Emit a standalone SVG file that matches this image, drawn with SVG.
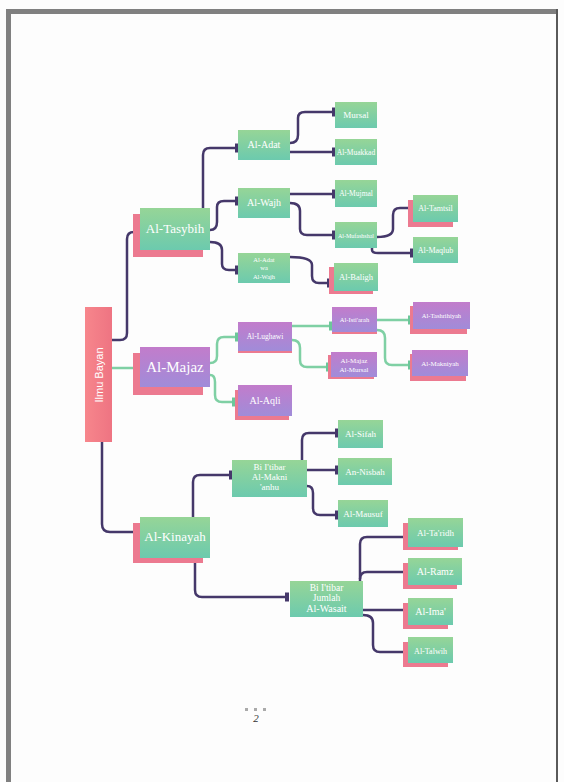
<svg xmlns="http://www.w3.org/2000/svg" width="564" height="782" viewBox="0 0 564 782">
<defs>
<linearGradient id="gG" x1="0" y1="0" x2="0" y2="1"><stop offset="0" stop-color="#96d597"/><stop offset="1" stop-color="#6ccaae"/></linearGradient>
<linearGradient id="gP" x1="0" y1="0" x2="0" y2="1"><stop offset="0" stop-color="#c27ccb"/><stop offset="1" stop-color="#a08cd9"/></linearGradient>
<linearGradient id="gR" x1="0" y1="0" x2="1" y2="0"><stop offset="0" stop-color="#f7868c"/><stop offset="1" stop-color="#ee7482"/></linearGradient>
<marker id="bd" markerWidth="6" markerHeight="10" refX="4" refY="5" orient="auto" markerUnits="userSpaceOnUse"><rect x="1" y="0.5" width="4" height="9" fill="#45386a"/></marker>
<marker id="bg" markerWidth="6" markerHeight="10" refX="4" refY="5" orient="auto" markerUnits="userSpaceOnUse"><rect x="1" y="0.5" width="4" height="9" fill="#6cc79a"/></marker>
</defs>
<style>
.g{fill:url(#gG)}
.p{fill:url(#gP)}
.s{fill:#ec7a90}
.t{fill:#ffffff;font-family:"Liberation Serif",serif;text-anchor:middle}
.cd{fill:none;stroke:#45386a;stroke-width:2.5;marker-end:url(#bd)}
.cg{fill:none;stroke:#7fd0a4;stroke-width:2.5;marker-end:url(#bg)}
</style>
<rect width="564" height="782" fill="#fdfdfd"/>
<rect x="6" y="9" width="552" height="5" fill="#808080"/>
<rect x="6" y="9" width="5" height="773" fill="#808080"/>
<rect x="556" y="9" width="2" height="773" fill="#5a5a5a"/>

<g id="connectors">
<path class="cd" d="M112,340 H120 Q127,340 127,333 V239 Q127,232 134,232 H140"/>
<path class="cg" d="M112,368 H140"/>
<path class="cd" d="M102,442 V524 Q102,532 110,532 H140"/>
<path class="cd" d="M203,208 V155 Q203,148 210,148 H238"/>
<path class="cd" d="M210,230 Q217,230 217,222 V207 Q217,201 224,201 H238"/>
<path class="cd" d="M210,242 Q222,242 222,250 V264 Q222,270 229,270 H238"/>
<path class="cd" d="M290,143 Q298,143 298,135 V118 Q298,112 305,112 H335"/>
<path class="cd" d="M290,152 H335"/>
<path class="cd" d="M290,194 H335"/>
<path class="cd" d="M290,203 Q300,203 300,211 V229 Q300,235 307,235 H335"/>
<path class="cd" d="M377,237 Q393,237 393,229 V215 Q393,208 400,208 H411"/>
<path class="cd" d="M372,248 V250 Q372,253 378,253 H413"/>
<path class="cd" d="M290,257 Q312,257 312,265 V276 Q312,283 319,283 H330"/>
<path class="cg" d="M210,363 Q217,363 217,356 V344 Q217,337 224,337 H238"/>
<path class="cg" d="M210,375 Q215,375 215,382 V395 Q215,402 222,402 H235"/>
<path class="cg" d="M292,326 H332"/>
<path class="cg" d="M292,340 Q300,340 300,348 V360 Q300,367 307,367 H329"/>
<path class="cg" d="M377,320 H411"/>
<path class="cg" d="M377,330 Q385,330 385,338 V358 Q385,365 392,365 H411"/>
<path class="cd" d="M193,517 V482 Q193,475 200,475 H232"/>
<path class="cd" d="M195,558 V590 Q195,597 202,597 H288"/>
<path class="cd" d="M302,460 V440 Q302,433 309,433 H338"/>
<path class="cd" d="M307,470 H338"/>
<path class="cd" d="M307,486 Q313,486 313,493 V508 Q313,515 320,515 H338"/>
<path class="cd" d="M360,582 V544 Q360,537 367,537 H408"/>
<path class="cd" d="M360,579 Q360,572 367,572 H408"/>
<path class="cd" d="M363,610 H408"/>
<path class="cd" d="M363,615 Q373,615 373,623 V645 Q373,652 380,652 H408"/>
</g>

<g id="root"><rect x="85" y="307" width="27" height="135" fill="url(#gR)"/><text transform="rotate(-90 98.5 375)" x="98.5" y="379" font-family="Liberation Sans,sans-serif" font-size="11" fill="#ffffff" text-anchor="middle">Ilmu Bayan</text></g>

<g id="tasybih"><rect class="s" x="133" y="214" width="70" height="43"/><rect class="g" x="140" y="208" width="70" height="42"/><text class="t" x="175" y="233" font-size="13">Al-Tasybih</text></g>
<g id="majaz"><rect class="s" x="133" y="353" width="70" height="42"/><rect class="p" x="140" y="347" width="70" height="40"/><text class="t" x="175" y="372" font-size="15">Al-Majaz</text></g>
<g id="kinayah"><rect class="s" x="133" y="523" width="70" height="40"/><rect class="g" x="140" y="517" width="70" height="41"/><text class="t" x="175" y="541" font-size="13">Al-Kinayah</text></g>

<g id="adat"><rect class="g" x="238" y="130" width="52" height="30"/><text class="t" x="264" y="148" font-size="10">Al-Adat</text></g>
<g id="mursal"><rect class="g" x="335" y="102" width="42" height="26"/><text class="t" x="356" y="118" font-size="9">Mursal</text></g>
<g id="muakkad"><rect class="g" x="335" y="139" width="42" height="26"/><text class="t" x="356" y="155" font-size="7.5">Al-Muakkad</text></g>
<g id="wajh"><rect class="g" x="238" y="188" width="52" height="30"/><text class="t" x="264" y="206" font-size="10">Al-Wajh</text></g>
<g id="mujmal"><rect class="g" x="335" y="180" width="42" height="27"/><text class="t" x="356" y="196" font-size="7.5">Al-Mujmal</text></g>
<g id="mufashshal"><rect class="g" x="335" y="222" width="42" height="26"/><text class="t" x="356" y="238" font-size="6">Al-Mufashshal</text></g>
<g id="tamtsil"><rect class="s" x="408" y="200" width="45" height="27"/><rect class="g" x="413" y="195" width="45" height="27"/><text class="t" x="435.5" y="211" font-size="8">Al-Tamtsil</text></g>
<g id="maqlub"><rect class="g" x="413" y="237" width="45" height="26"/><text class="t" x="435.5" y="253" font-size="8">Al-Maqlub</text></g>
<g id="adatwajh"><rect class="g" x="238" y="253" width="52" height="30"/><text class="t" x="264" y="262" font-size="6.5">Al-Adat</text><text class="t" x="264" y="270" font-size="6.5">wa</text><text class="t" x="264" y="279" font-size="6.5">Al-Wajh</text></g>
<g id="baligh"><rect class="s" x="329" y="267" width="44" height="27"/><rect class="g" x="334" y="263" width="44" height="28"/><text class="t" x="356" y="280" font-size="8.5">Al-Baligh</text></g>

<g id="lughawi"><rect class="s" x="238" y="348" width="54" height="5"/><rect class="p" x="238" y="322" width="54" height="29"/><text class="t" x="265" y="339" font-size="7.5">Al-Lughawi</text></g>
<g id="istiarah"><rect class="s" x="332" y="328" width="45" height="6"/><rect class="p" x="332" y="307" width="45" height="25"/><text class="t" x="354.5" y="322" font-size="6.5">Al-Isti'arah</text></g>
<g id="majazmursal"><rect class="s" x="328" y="355" width="46" height="24"/><rect class="p" x="331" y="352" width="46" height="25"/><text class="t" x="354" y="363" font-size="7">Al-Majaz</text><text class="t" x="354" y="372" font-size="7">Al-Mursal</text></g>
<g id="tashrihiyah"><rect class="s" x="410" y="306" width="57" height="28"/><rect class="p" x="413" y="302" width="57" height="27"/><text class="t" x="441.5" y="318" font-size="6.5">Al-Tashrihiyah</text></g>
<g id="makniyah"><rect class="s" x="410" y="354" width="56" height="27"/><rect class="p" x="412" y="350" width="56" height="26"/><text class="t" x="440" y="366" font-size="7">Al-Makniyah</text></g>
<g id="aqli"><rect class="s" x="235" y="390" width="54" height="30"/><rect class="p" x="238" y="385" width="54" height="31"/><text class="t" x="265" y="404" font-size="10">Al-Aqli</text></g>

<g id="makni"><rect class="g" x="232" y="460" width="75" height="37"/><text class="t" x="269.5" y="470" font-size="9">Bi I'tibar</text><text class="t" x="269.5" y="480" font-size="9">Al-Makni</text><text class="t" x="269.5" y="490" font-size="9">'anhu</text></g>
<g id="sifah"><rect class="g" x="338" y="420" width="45" height="28"/><text class="t" x="360.5" y="437" font-size="9">Al-Sifah</text></g>
<g id="nisbah"><rect class="g" x="338" y="458" width="54" height="27"/><text class="t" x="365" y="475" font-size="9">An-Nisbah</text></g>
<g id="mausuf"><rect class="g" x="338" y="500" width="50" height="27"/><text class="t" x="363" y="517" font-size="9">Al-Mausuf</text></g>
<g id="wasait"><rect class="g" x="290" y="581" width="73" height="36"/><text class="t" x="326.5" y="591" font-size="9.5">Bi I'tibar</text><text class="t" x="326.5" y="601" font-size="9.5">Jumlah</text><text class="t" x="326.5" y="612" font-size="10">Al-Wasait</text></g>
<g id="taridh"><rect class="s" x="403" y="523" width="55" height="27"/><rect class="g" x="408" y="518" width="55" height="29"/><text class="t" x="435.5" y="536" font-size="9">Al-Ta'ridh</text></g>
<g id="ramz"><rect class="s" x="403" y="563" width="54" height="26"/><rect class="g" x="408" y="558" width="54" height="27"/><text class="t" x="435" y="575" font-size="10">Al-Ramz</text></g>
<g id="ima"><rect class="s" x="403" y="603" width="45" height="26"/><rect class="g" x="408" y="598" width="45" height="27"/><text class="t" x="430.5" y="615" font-size="10">Al-Ima'</text></g>
<g id="talwih"><rect class="s" x="403" y="642" width="45" height="25"/><rect class="g" x="408" y="637" width="45" height="26"/><text class="t" x="430.5" y="654" font-size="8">Al-Talwih</text></g>

<g id="pagenum"><rect x="245" y="708" width="3" height="3" fill="#aaaaaa"/><rect x="254" y="708" width="3" height="3" fill="#aaaaaa"/><rect x="263" y="708" width="3" height="3" fill="#aaaaaa"/><text x="256" y="722" font-family="Liberation Serif,serif" font-size="11" font-style="italic" fill="#333333" text-anchor="middle">2</text></g>
</svg>
